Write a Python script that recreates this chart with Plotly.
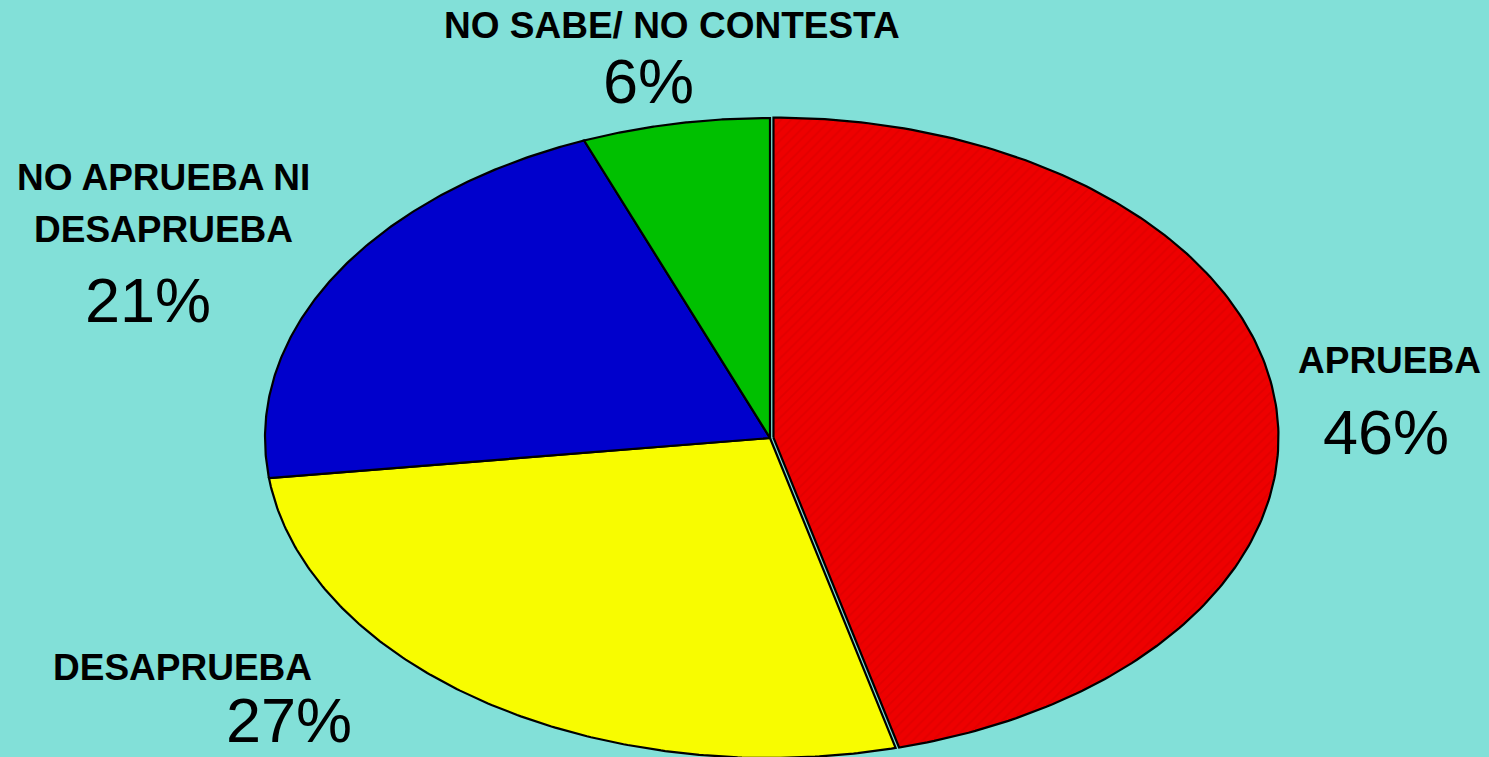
import numpy as np
import plotly.graph_objects as go

# ---- data ----
categories = ["APRUEBA", "DESAPRUEBA", "NO APRUEBA NI<br>DESAPRUEBA", "NO SABE/ NO CONTESTA"]
values = [46, 27, 21, 6]
percent_labels = [f"{v}%" for v in values]

# ---- styles / layout ----
colors = ["#ee0000", "#f8fc00", "#0000cc", "#00c000"]
W, H = 1489, 757
CX, CY, RA, RB = 770, 438, 505, 320
explode = [3.5, 0, 0, 0]
bg = "#82e0d8"

# label positions (x centre, y of first line), percent positions
name_pos = [(1389, 360), (182, 667), (163, 177), (672, 25)]
pct_pos = [(1386, 432), (289, 726), (148, 300), (648, 81)]
NAME_SIZE, PCT_SIZE, LINE_GAP = 37, 63, 52

fig = go.Figure()
total = sum(values)
start = 0.0
for i, v in enumerate(values):
    frac = v / total
    t0, t1 = start * 2 * np.pi, (start + frac) * 2 * np.pi
    mid = (t0 + t1) / 2
    ox = explode[i] * np.sin(mid)
    oy = -explode[i] * np.cos(mid)
    th = np.linspace(t0, t1, 200)
    xs = np.concatenate([[CX], CX + RA * np.sin(th), [CX]]) + ox
    ys = np.concatenate([[CY], CY - RB * np.cos(th), [CY]]) + oy
    kw = {}
    if i == 0:
        kw["fillpattern"] = dict(shape="/", fgcolor="#d40000", bgcolor=colors[i],
                                 size=7, solidity=0.25)
    fig.add_trace(go.Scatter(
        x=xs, y=ys, mode="lines", fill="toself", fillcolor=colors[i],
        line=dict(color="black", width=2.2), hoverinfo="text",
        text=f"{categories[i].replace('<br>', ' ')}: {percent_labels[i]}",
        showlegend=False, **kw))
    start += frac

for i, name in enumerate(categories):
    nx, ny = name_pos[i]
    for j, line in enumerate(name.split("<br>")):
        fig.add_annotation(x=nx, y=ny + j * LINE_GAP, text=f"<b>{line}</b>",
                           showarrow=False, xanchor="center", yanchor="middle",
                           font=dict(family="Liberation Sans, Arial", size=NAME_SIZE, color="black"))
    px, py = pct_pos[i]
    anchor = "middle"
    if i == 1:
        anchor = "bottom"
        py = H
    fig.add_annotation(x=px, y=py, text=percent_labels[i], showarrow=False,
                       xanchor="center", yanchor=anchor,
                       font=dict(family="Liberation Sans, Arial", size=PCT_SIZE, color="black"))

fig.update_layout(
    width=W, height=H, margin=dict(l=0, r=0, t=0, b=0),
    paper_bgcolor=bg, plot_bgcolor=bg,
    xaxis=dict(range=[0, W], visible=False, fixedrange=True),
    yaxis=dict(range=[H, 0], visible=False, fixedrange=True),
)
fig.write_html("out.html", config={"displayModeBar": False},
               post_script="document.body.style.margin='0';document.body.style.overflow='hidden';")
